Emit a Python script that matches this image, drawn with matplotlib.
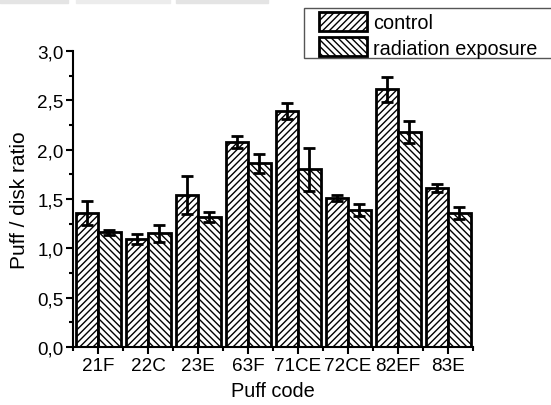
import numpy as np
import matplotlib.pyplot as plt
from matplotlib.patches import Rectangle
from matplotlib.ticker import MultipleLocator, FixedLocator

plt.rcParams['font.family'] = ['Liberation Sans', 'DejaVu Sans']
plt.rcParams['hatch.linewidth'] = 1.0

# datos
codes = ['21F', '22C', '23E', '63F', '71CE', '72CE', '82EF', '83E']
control = [1.36, 1.09, 1.54, 2.08, 2.39, 1.51, 2.61, 1.61]
control_err = [0.12, 0.05, 0.19, 0.06, 0.08, 0.03, 0.13, 0.04]
radiation = [1.16, 1.15, 1.32, 1.86, 1.80, 1.39, 2.18, 1.36]
radiation_err = [0.03, 0.09, 0.05, 0.10, 0.22, 0.06, 0.11, 0.06]
yticks = [0.0, 0.5, 1.0, 1.5, 2.0, 2.5, 3.0]

W, H = 551, 406
fig = plt.figure(figsize=(W / 100, H / 100), dpi=100)
ax = fig.add_axes([0.1325, 0.143, 0.726, 0.729])

# franjas grises de la captura original (arriba)
for x0, x1, c in [(0, 68, '#e4e4e4'), (76, 170, '#ececec'), (176, 268, '#e4e4e4')]:
    fig.patches.append(Rectangle((x0 / W, 1 - 3.5 / H), (x1 - x0) / W, 3.5 / H,
                                 transform=fig.transFigure, color=c, zorder=0))

x = np.arange(len(codes))
w = 0.45
err_kw = dict(elinewidth=2, capthick=2, capsize=4, ecolor='black')
b1 = ax.bar(x - w / 2, control, w, yerr=control_err, color='white',
            edgecolor='black', linewidth=2, hatch='/////', error_kw=err_kw,
            label='control')
b2 = ax.bar(x + w / 2, radiation, w, yerr=radiation_err, color='white',
            edgecolor='black', linewidth=2, hatch='\\\\\\\\\\', error_kw=err_kw,
            label='radiation exposure')

ax.set_xlim(-0.5, 7.5)
ax.set_ylim(0, 3.0)
ax.set_xticks(x)
ax.set_xticklabels(codes, fontsize=13.6)
ax.xaxis.set_minor_locator(FixedLocator(np.arange(-0.5, 8, 1)))
ax.set_yticks(yticks)
ax.set_yticklabels([f'{v:.1f}'.replace('.', ',') for v in yticks], fontsize=13.6)
ax.yaxis.set_minor_locator(MultipleLocator(0.25))

for s in ['top', 'right']:
    ax.spines[s].set_visible(False)
for s in ['left', 'bottom']:
    ax.spines[s].set_linewidth(1.5)
ax.tick_params(which='major', direction='out', length=5, width=1.5, pad=2)
ax.tick_params(which='minor', direction='out', length=3, width=1.5)

ax.set_xlabel('Puff code', fontsize=14.4, labelpad=5)
ax.set_ylabel('Puff / disk ratio', fontsize=15, labelpad=6)

# marco de la leyenda (sale por el borde derecho, como en la imagen)
fig.patches.append(Rectangle((304 / W, 1 - 59 / H), 260 / W, 50 / H,
                             transform=fig.transFigure, facecolor='white',
                             edgecolor='#555555', linewidth=1, zorder=1))
leg = fig.legend(handles=[b1, b2], loc='upper left',
                 bbox_to_anchor=(319 / W, 1 - 13 / H),
                 fontsize=14.3, frameon=False,
                 handlelength=2.4, handleheight=1.1, borderpad=0,
                 labelspacing=0.25, handletextpad=0.3, borderaxespad=0)

fig.savefig('out.png', dpi=100)
